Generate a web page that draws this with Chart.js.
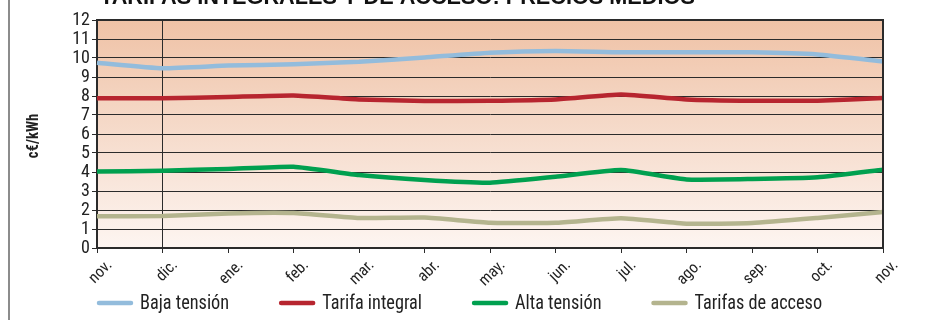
<!DOCTYPE html>
<html>
<head>
<meta charset="utf-8">
<script src="https://cdn.jsdelivr.net/npm/chart.js@4/dist/chart.umd.min.js"></script>
<style>
  html, body { margin: 0; padding: 0; background: #fff; }
  #wrap { width: 928px; height: 320px; }
</style>
</head>
<body>
<div id="wrap"><canvas id="tarifasChart" width="928" height="320"></canvas></div>
<script>
// colori delle serie
const colors = {
  baja: "#93bcdc",
  integral: "#b7252f",
  alta: "#00a04f",
  acceso: "#b4b48e",
  grid: "#2b2b2b",
  text: "#222222",
};

const FONT = "'Liberation Sans Narrow', 'Arial Narrow', 'Roboto Condensed', Roboto, sans-serif";

// mesi
const meses = ["nov.", "dic.", "ene.", "feb.", "mar.", "abr.", "may.", "jun.", "jul.", "ago.", "sep.", "oct.", "nov."];

// c€/kWh
const bajaTension = [9.75, 9.46, 9.6, 9.67, 9.8, 10.03, 10.28, 10.37, 10.3, 10.3, 10.3, 10.19, 9.82];
const tarifaIntegral = [7.88, 7.88, 7.95, 8.03, 7.82, 7.74, 7.75, 7.82, 8.08, 7.82, 7.75, 7.75, 7.89];
const altaTension = [4.02, 4.07, 4.16, 4.28, 3.84, 3.58, 3.44, 3.75, 4.1, 3.61, 3.63, 3.72, 4.12];
const tarifasAcceso = [1.67, 1.68, 1.82, 1.84, 1.58, 1.6, 1.33, 1.33, 1.56, 1.28, 1.31, 1.58, 1.89];

const yTicks = [0, 1, 2, 3, 4, 5, 6, 7, 8, 9, 10, 11, 12];

const titulo = "TARIFAS INTEGRALES Y DE ACCESO: PRECIOS MEDIOS";
const unidad = "c€/kWh";

const series = [
  { label: "Baja tensión", data: bajaTension, color: colors.baja },
  { label: "Tarifa integral", data: tarifaIntegral, color: colors.integral },
  { label: "Alta tensión", data: altaTension, color: colors.alta },
  { label: "Tarifas de acceso", data: tarifasAcceso, color: colors.acceso },
];

// sfondo sfumato dell'area del grafico
const bgPlugin = {
  id: "bgPlugin",
  beforeDraw(chart) {
    const { ctx, chartArea: a } = chart;
    const g = ctx.createLinearGradient(0, a.top, 0, a.bottom);
    g.addColorStop(0, "#efc2a6");
    g.addColorStop(1, "#fdf5f1");
    ctx.save();
    ctx.fillStyle = g;
    ctx.fillRect(a.left, a.top, a.right - a.left, a.bottom - a.top);
    ctx.restore();
  },
};

// titolo, etichetta asse, bordo e legenda
const decorPlugin = {
  id: "decorPlugin",
  afterDraw(chart) {
    const { ctx, chartArea: a } = chart;
    ctx.save();

    // bordo grigio a sinistra
    ctx.strokeStyle = "#8c8c8c";
    ctx.lineWidth = 2;
    ctx.beginPath();
    ctx.moveTo(9, 0);
    ctx.lineTo(9, 320);
    ctx.stroke();

    // cornice destra e superiore
    ctx.strokeStyle = colors.grid;
    ctx.lineWidth = 2;
    ctx.beginPath();
    ctx.moveTo(a.left, a.top);
    ctx.lineTo(a.right, a.top);
    ctx.lineTo(a.right, a.bottom);
    ctx.stroke();

    // titolo (tagliato in alto)
    ctx.fillStyle = "#111";
    ctx.font = "bold 20px 'Liberation Sans', Arial, sans-serif";
    const w = ctx.measureText(titulo).width;
    const size = 20 * 595 / w;
    ctx.font = "bold " + size.toFixed(1) + "px 'Liberation Sans', Arial, sans-serif";
    ctx.textBaseline = "alphabetic";
    ctx.textAlign = "left";
    ctx.fillText(titulo, 100, 4);

    // unità asse y
    ctx.translate(34, 136);
    ctx.rotate(-Math.PI / 2);
    ctx.scale(0.92, 1);
    ctx.font = "bold 16px " + FONT;
    ctx.textAlign = "center";
    ctx.textBaseline = "middle";
    ctx.fillStyle = colors.text;
    ctx.fillText(unidad, 0, 0);
    ctx.setTransform(1, 0, 0, 1, 0, 0);

    // legenda (testo condensato)
    let x = a.left;
    const y = 303;
    const sx = 0.87;
    ctx.font = "21px " + FONT;
    ctx.textAlign = "left";
    ctx.textBaseline = "middle";
    ctx.lineCap = "round";
    series.forEach((s) => {
      ctx.strokeStyle = s.color;
      ctx.lineWidth = 4.5;
      ctx.beginPath();
      ctx.moveTo(x + 2, y);
      ctx.lineTo(x + 34, y);
      ctx.stroke();
      ctx.fillStyle = colors.text;
      ctx.save();
      ctx.translate(x + 43, y + 1);
      ctx.scale(sx, 1);
      ctx.fillText(s.label, 0, 0);
      ctx.restore();
      x += 43 + ctx.measureText(s.label).width * sx + 50;
    });

    ctx.restore();
  },
};

const ctx = document.getElementById("tarifasChart").getContext("2d");

new Chart(ctx, {
  type: "line",
  data: {
    labels: meses,
    datasets: series.map((s) => ({
      label: s.label,
      data: s.data,
      borderColor: s.color,
      backgroundColor: s.color,
      borderWidth: 4.5,
      pointRadius: 0,
      tension: 0.15,
      borderJoinStyle: "round",
      borderCapStyle: "butt",
      fill: false,
    })),
  },
  options: {
    responsive: false,
    animation: false,
    layout: { padding: { left: 0, right: 45, top: 20, bottom: 0 } },
    plugins: {
      legend: { display: false },
      tooltip: { enabled: false },
    },
    scales: {
      x: {
        offset: false,
        grid: {
          color: (c) => (c.index === 1 ? colors.grid : "transparent"),
          tickColor: colors.grid,
          tickLength: 5,
          drawOnChartArea: true,
        },
        border: { color: colors.grid, width: 2 },
        ticks: {
          maxRotation: 45,
          minRotation: 45,
          autoSkip: false,
          padding: 3,
          labelOffset: 13,
          color: colors.text,
          font: { family: FONT, size: 16 },
        },
        afterFit(scale) {
          scale.height = 72;
        },
      },
      y: {
        min: 0,
        max: 12,
        afterBuildTicks(scale) {
          scale.ticks = yTicks.map((v) => ({ value: v }));
        },
        grid: { color: colors.grid, tickColor: colors.grid, tickLength: 5 },
        border: { color: colors.grid, width: 2 },
        ticks: {
          autoSkip: false,
          padding: 2,
          color: colors.text,
          font: { family: FONT, size: 18 },
        },
        afterFit(scale) {
          scale.width = 97;
        },
      },
    },
  },
  plugins: [bgPlugin, decorPlugin],
});
</script>
</body>
</html>
